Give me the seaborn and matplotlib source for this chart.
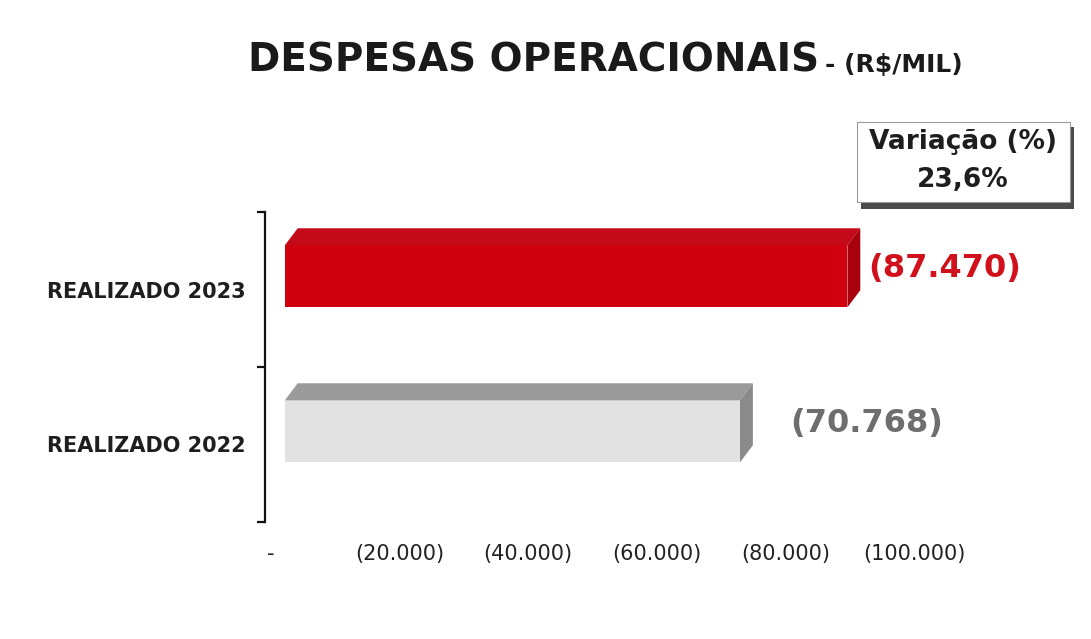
import numpy as np
import pandas as pd
import seaborn as sns
import matplotlib.pyplot as plt
from matplotlib.patches import Polygon, Rectangle

# dados
categorias = ['REALIZADO 2023', 'REALIZADO 2022']
valores = [87470, 70768]
cores = ['#d0000f', '#e2e2e2']
cores_topo = ['#c40a18', '#9a9a9a']
cores_lado = ['#a8000c', '#8a8a8a']
cores_rotulo = ['#d0101a', '#6e6e6e']
ticks_x = [0, 20000, 40000, 60000, 80000, 100000]
ticks_lbl = ['-', '(20.000)', '(40.000)', '(60.000)', '(80.000)', '(100.000)']
variacao = '23,6%'

W, H = 1091, 639
sns.set_style('white')
plt.rcParams['font.family'] = ['DejaVu Sans']

df = pd.DataFrame({'cat': categorias, 'valor': valores})

fig = plt.figure(figsize=(W / 100, H / 100), dpi=100)
fig.patch.set_facecolor('white')
ax = fig.add_axes([265 / W, 1 - 522 / H, 649 / W, 310 / H])

sns.barplot(data=df, x='valor', y='cat', hue='cat', palette=cores, width=0.4,
            saturation=1, orient='h', legend=False, ax=ax)
ax.set_xlim(-900, 100000)
ax.set_ylim(1.5, -0.5)

# efeito 3D: desloca a face frontal e desenha topo e lateral
shift_x, shift_y = 2180, -0.085
dx, dy = 2000, 0.11
for i, cont in enumerate(ax.containers):
    for p in cont:
        p.set_x(p.get_x() + shift_x)
        p.set_y(p.get_y() + shift_y)
        p.set_edgecolor('none')
        x0 = p.get_x()
        x1 = x0 + p.get_width()
        y0 = p.get_y()
        y1 = y0 + p.get_height()
        topo = Polygon([(x0, y0), (x1, y0), (x1 + dx, y0 - dy), (x0 + dx, y0 - dy)],
                       closed=True, facecolor=cores_topo[i], edgecolor='none', zorder=1)
        lado = Polygon([(x1, y0), (x1 + dx, y0 - dy), (x1 + dx, y1 - dy), (x1, y1)],
                       closed=True, facecolor=cores_lado[i], edgecolor='none', zorder=1)
        ax.add_patch(topo)
        ax.add_patch(lado)
        lbl = '(' + f'{valores[i]:,.0f}'.replace(',', '.') + ')'
        off = [6, 27][i]
        ax.annotate(lbl, xy=(x1 + dx, (y0 + y1) / 2 - 0.05), xytext=(off, 0),
                    textcoords='offset points', ha='left', va='center',
                    fontsize=23, fontweight='bold', color=cores_rotulo[i])

# eixos
for s in ['top', 'right', 'bottom']:
    ax.spines[s].set_visible(False)
ax.spines['left'].set_color('#111111')
ax.spines['left'].set_linewidth(1.6)
ax.set_xlabel('')
ax.set_ylabel('')
ax.set_xticks(ticks_x)
ax.set_xticklabels(ticks_lbl, fontsize=15, color='#222222')
ax.tick_params(axis='x', length=0, pad=16)
ax.set_yticks([0, 1])
ax.set_yticklabels(categorias, fontsize=15, fontweight='bold', color='#1e1e1e')
ax.tick_params(axis='y', which='major', left=False, length=0, pad=14)
ax.set_yticks([-0.5, 0.5, 1.5], minor=True)
ax.tick_params(axis='y', which='minor', left=True, length=6, width=1.6,
               color='#111111', direction='out')

# titulo
t1 = fig.text(248 / W, 1 - 72 / H, 'DESPESAS OPERACIONAIS', fontsize=28,
              fontweight='bold', color='#1a1a1a', va='baseline', ha='left')
fig.canvas.draw()
bb = t1.get_window_extent()
fig.text(bb.x1 / W + 6 / W, 1 - 72 / H, '- (R$/MIL)', fontsize=18,
         fontweight='bold', color='#1a1a1a', va='baseline', ha='left')

# caixa de variacao
fig.patches.append(Rectangle((861 / W, 1 - 209 / H), 213 / W, 82 / H,
                             transform=fig.transFigure, facecolor='#4a4a4a',
                             edgecolor='none', zorder=1))
fig.patches.append(Rectangle((857 / W, 1 - 202 / H), 213 / W, 80 / H,
                             transform=fig.transFigure, facecolor='white',
                             edgecolor='#9a9a9a', linewidth=0.8, zorder=2))
fig.text(963 / W, 1 - 142 / H, 'Variação (%)', fontsize=19, fontweight='bold',
         color='#1e1e1e', ha='center', va='center', zorder=3)
fig.text(963 / W, 1 - 180 / H, variacao, fontsize=19, fontweight='bold',
         color='#1e1e1e', ha='center', va='center', zorder=3)

fig.savefig('out.png', dpi=100, facecolor='white')
